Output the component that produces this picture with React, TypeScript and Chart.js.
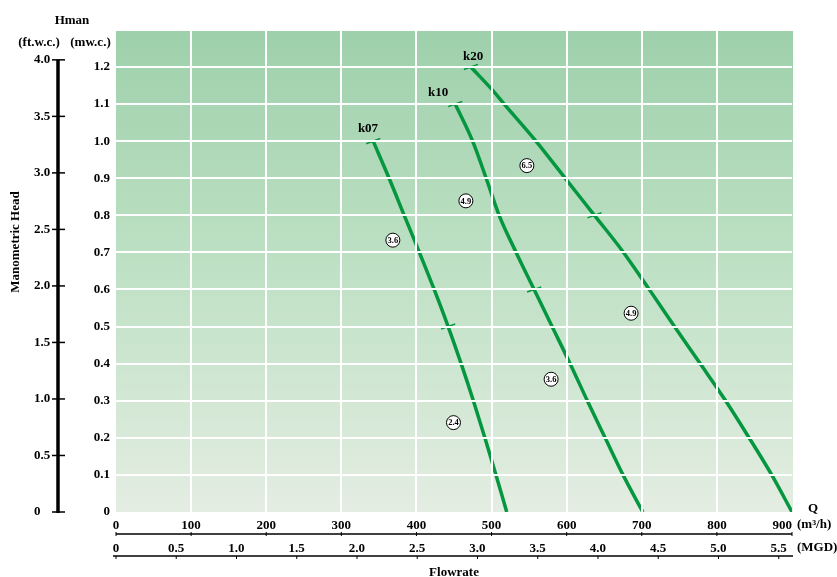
import React, { useEffect, useRef } from 'react';
import { Chart, registerables } from 'chart.js';

Chart.register(...registerables);

const FONT = '"Liberation Serif", "Times New Roman", serif';
const GREEN = '#04973f';

// Flowrate (m3/h) and manometric head (mw.c.) of each curve
const k07Q = [342.4, 363.6, 383.7, 403.9, 423.6, 442.2, 459.5, 475.8, 491.1, 505.9, 520.2];
const k07H = [1.0, 0.9, 0.8, 0.7, 0.6, 0.5, 0.4, 0.3, 0.2, 0.1, 0.0];
const k10Q = [451.6, 474.8, 492.8, 510.1, 532.7, 556.7, 580.6, 604.6, 627.5, 651.2, 675, 701.4];
const k10H = [1.1, 1.0, 0.9, 0.8, 0.7, 0.6, 0.5, 0.4, 0.3, 0.2, 0.1, 0.0];
const k20Q = [472.5, 505, 516, 558, 600, 637, 673.5, 709, 744, 777.5, 811, 842, 873, 900];
const k20H = [1.2, 1.129, 1.102, 1.003, 0.895, 0.8, 0.706, 0.603, 0.499, 0.401, 0.302, 0.203, 0.1, 0.0];

const curveNames = ['k07', 'k10', 'k20'];
const curveLabelQ = [335.5, 429, 475.5];
const curveLabelH = [1.035, 1.132, 1.229];

// short marks on the curves
const markQ = [342.4, 442.2, 451.6, 556.7, 472.5, 637];
const markH = [1.0, 0.5, 1.1, 0.6, 1.2, 0.8];

// circled values
const circleQ = [368.6, 449.3, 465.8, 579.3, 547, 685.8];
const circleH = [0.733, 0.241, 0.839, 0.358, 0.934, 0.536];
const circleText = ['3.6', '2.4', '4.9', '3.6', '6.5', '4.9'];

// axes
const Q_MAX = 900;
const Q_STEP = 100;
const H_MAX = 1.297;
const H_STEP = 0.1;
const FT_PER_M = 3.28084;
const FT_STEP = 0.5;
const FT_TOP = 4.0;
const MGD_MIN = 0;
const MGD_MAX = 5.61;
const MGD_STEP = 0.5;

const fmt = (v: number) => (v === 0 ? '0' : v.toFixed(1));

const bgPlugin = {
  id: 'bgGradient',
  beforeDraw(chart: any) {
    const { ctx, chartArea: a } = chart;
    const g = ctx.createLinearGradient(0, a.top, 0, a.bottom);
    g.addColorStop(0, 'rgb(158,208,171)');
    g.addColorStop(0.5, 'rgb(191,225,197)');
    g.addColorStop(1, 'rgb(228,237,226)');
    ctx.save();
    ctx.fillStyle = g;
    ctx.fillRect(a.left, a.top, a.right - a.left + 1, a.bottom - a.top);
    ctx.restore();
  },
};

const decoPlugin = {
  id: 'deco',
  afterDraw(chart: any) {
    const { ctx, scales } = chart;
    const xs = scales.x;
    const x2 = scales.x2;
    const ys = scales.y;
    const y2 = scales.y2;
    ctx.save();
    ctx.strokeStyle = '#000';
    ctx.fillStyle = '#000';

    // ft.w.c. axis
    const ax = y2.right - 2;
    ctx.lineWidth = 3.5;
    ctx.beginPath();
    ctx.moveTo(ax, y2.getPixelForValue(FT_TOP));
    ctx.lineTo(ax, y2.getPixelForValue(0) + 1);
    ctx.stroke();
    ctx.lineWidth = 1.5;
    y2.ticks.forEach((t: any) => {
      const py = y2.getPixelForValue(t.value);
      ctx.beginPath();
      ctx.moveTo(ax - 6, py);
      ctx.lineTo(ax + 7, py);
      ctx.stroke();
    });

    // m3/h axis line
    const ly = xs.top + 22;
    ctx.lineWidth = 1.5;
    ctx.beginPath();
    ctx.moveTo(xs.getPixelForValue(0), ly);
    ctx.lineTo(xs.right, ly);
    ctx.stroke();
    ctx.lineWidth = 1;
    xs.ticks.forEach((t: any) => {
      const px = xs.getPixelForValue(t.value);
      ctx.beginPath();
      ctx.moveTo(px, ly - 2);
      ctx.lineTo(px, ly + 2);
      ctx.stroke();
    });

    // MGD axis line
    const my = x2.top + 16;
    ctx.lineWidth = 1.5;
    ctx.beginPath();
    ctx.moveTo(x2.getPixelForValue(0) - 3, my);
    ctx.lineTo(x2.right + 1, my);
    ctx.stroke();
    ctx.lineWidth = 1;
    x2.ticks.forEach((t: any) => {
      const px = x2.getPixelForValue(t.value);
      ctx.beginPath();
      ctx.moveTo(px, my);
      ctx.lineTo(px, my + 3);
      ctx.stroke();
    });

    // curve names
    ctx.font = `bold 13px ${FONT}`;
    ctx.textAlign = 'center';
    ctx.textBaseline = 'middle';
    curveNames.forEach((n, i) => {
      ctx.fillText(n, xs.getPixelForValue(curveLabelQ[i]), ys.getPixelForValue(curveLabelH[i]));
    });

    // circled values text
    const meta = chart.getDatasetMeta(4);
    ctx.font = `bold 8.5px ${FONT}`;
    meta.data.forEach((el: any, i: number) => {
      ctx.fillText(circleText[i], el.x, el.y + 0.5);
    });

    // axis titles
    ctx.font = `bold 13px ${FONT}`;
    ctx.fillText('Hman', 72, 21);
    ctx.fillText('(ft.w.c.)', 39, 43);
    ctx.fillText('(mw.c.)', 90.5, 43);
    ctx.fillText('Q', 813, 509);
    ctx.textAlign = 'left';
    ctx.fillText('(m³/h)', 797, 525);
    ctx.fillText('(MGD)', 797, 548);

    ctx.font = `bold 13px ${FONT}`;
    ctx.textAlign = 'center';
    ctx.translate(16, 242);
    ctx.rotate(-Math.PI / 2);
    ctx.fillText('Manometric Head', 0, 0);
    ctx.restore();
  },
};

const tickFont = { family: FONT, size: 13, weight: 'bold' as const };

export default function App() {
  const ref = useRef<HTMLCanvasElement>(null);

  useEffect(() => {
    if (!ref.current) return;
    const pts = (q: number[], h: number[]) => q.map((v, i) => ({ x: v, y: h[i] }));
    const lineDs = (q: number[], h: number[]) => ({
      type: 'scatter' as const,
      data: pts(q, h),
      showLine: true,
      borderColor: GREEN,
      borderWidth: 3.5,
      pointRadius: 0,
      cubicInterpolationMode: 'monotone' as const,
      fill: false,
      order: 2,
    });
    const chart = new Chart(ref.current, {
      type: 'scatter',
      data: {
        datasets: [
          lineDs(k07Q, k07H),
          lineDs(k10Q, k10H),
          lineDs(k20Q, k20H),
          {
            data: pts(markQ, markH),
            pointStyle: 'line',
            pointRadius: 7.5,
            pointRotation: -20,
            borderColor: GREEN,
            borderWidth: 1.5,
            order: 1,
          } as any,
          {
            data: pts(circleQ, circleH),
            pointStyle: 'circle',
            pointRadius: 7,
            backgroundColor: '#fff',
            borderColor: '#000',
            borderWidth: 1,
            order: 0,
          } as any,
        ],
      },
      options: {
        responsive: false,
        animation: false,
        devicePixelRatio: 1,
        layout: { padding: { left: 34, right: 45, top: 31, bottom: 0 } },
        plugins: { legend: { display: false }, tooltip: { enabled: false } },
        scales: {
          x: {
            type: 'linear',
            position: 'bottom',
            weight: 0,
            min: 0,
            max: Q_MAX,
            afterFit: (s: any) => { s.height = 28; },
            grid: {
              color: (c: any) => (c.tick && (c.tick.value === 0 || c.tick.value === Q_MAX) ? 'rgba(0,0,0,0)' : '#ffffff'),
              lineWidth: 2,
              drawTicks: false,
              z: 1,
            },
            border: { display: false },
            ticks: {
              stepSize: Q_STEP,
              autoSkip: false,
              maxRotation: 0,
              padding: 6,
              color: '#000',
              font: tickFont,
              callback: (v: any) => (Number(v) === Q_MAX ? String(v) + '      ' : String(v)),
            },
          },
          x2: {
            type: 'linear',
            position: 'bottom',
            weight: 1,
            min: MGD_MIN,
            max: MGD_MAX,
            afterFit: (s: any) => { s.height = 37; },
            grid: { display: false, drawTicks: false },
            border: { display: false },
            ticks: {
              stepSize: MGD_STEP,
              includeBounds: false,
              autoSkip: false,
              maxRotation: 0,
              padding: 1,
              color: '#000',
              font: tickFont,
              callback: (v: any) => fmt(Number(v)),
            },
            title: {
              display: true,
              text: 'Flowrate',
              color: '#000',
              font: { family: FONT, size: 13, weight: 'bold' },
              padding: { top: 0, bottom: -3 },
            },
          },
          y: {
            type: 'linear',
            position: 'left',
            weight: 0,
            min: 0,
            max: H_MAX,
            afterFit: (s: any) => { s.width = 56; },
            grid: {
              color: (c: any) => (c.tick && c.tick.value === 0 ? 'rgba(0,0,0,0)' : '#ffffff'),
              lineWidth: 2,
              drawTicks: false,
              z: 1,
            },
            border: { display: false },
            ticks: {
              stepSize: H_STEP,
              includeBounds: false,
              padding: 6,
              color: '#000',
              font: tickFont,
              callback: (v: any) => fmt(Number(v)),
            },
          },
          y2: {
            type: 'linear',
            position: 'left',
            weight: 1,
            min: 0,
            max: H_MAX * FT_PER_M,
            afterFit: (s: any) => { s.width = 26; },
            grid: { display: false, drawTicks: false },
            border: { display: false },
            ticks: {
              stepSize: FT_STEP,
              includeBounds: false,
              padding: 0,
              crossAlign: 'far',
              color: '#000',
              font: tickFont,
              callback: (v: any) => (Number(v) > FT_TOP ? '' : fmt(Number(v))),
            },
          },
        },
      },
      plugins: [bgPlugin, decoPlugin],
    } as any);
    return () => chart.destroy();
  }, []);

  return (
    <div style={{ position: 'fixed', left: 0, top: 0, width: 837, height: 577, background: '#fff' }}>
      <canvas ref={ref} width={837} height={577} style={{ display: 'block' }} />
    </div>
  );
}
